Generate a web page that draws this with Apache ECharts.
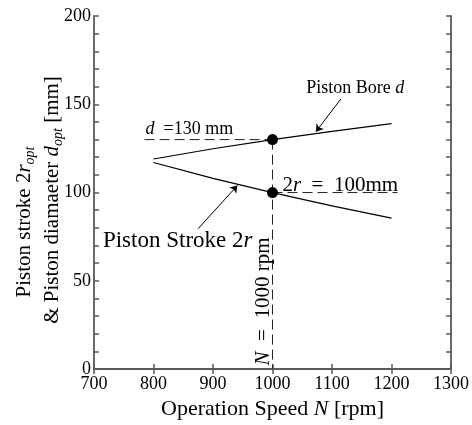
<!DOCTYPE html>
<html>
<head>
<meta charset="utf-8">
<script src="https://cdn.jsdelivr.net/npm/echarts@6/dist/echarts.min.js"></script>
<style>
html, body { margin: 0; padding: 0; background: #fff; }
#chart { width: 472px; height: 425px; }
</style>
</head>
<body>
<div id="chart"></div>
<script>
// values
var speed = [800, 900, 1000, 1100, 1200];
var bore = [119, 124.8, 130, 134.7, 139];
var stroke = [117, 108, 100, 92.5, 85.5];
var optPoints = [[1000, 130], [1000, 100]];
var boreGuide = [[785, 130], [1000, 130]];
var speedGuide = [[1000, 130], [1000, 0]];
var strokeGuide = [[1000, 100], [1210, 100]];
var boreArrow = [[1115, 153], [1073, 134.5]];
var strokeArrow = [[875, 79.5], [941, 104]];

var FONT = 'Liberation Serif';
var AXIS_COLOR = '#5a5a5a';

var myChart = echarts.init(document.getElementById('chart'));

function pairs(xs, ys) {
    return xs.map(function (x, i) { return [x, ys[i]]; });
}

function rich(size) {
    return {
        n: { fontFamily: FONT, fontSize: size, color: '#000', lineHeight: size + 6 },
        i: { fontFamily: FONT, fontSize: size, color: '#000', fontStyle: 'italic', lineHeight: size + 6 },
        s: { fontFamily: FONT, fontSize: Math.round(size * 0.68), color: '#000', fontStyle: 'italic',
             lineHeight: Math.round(size * 0.68), verticalAlign: 'bottom' }
    };
}

var tickStyle = { inside: true, length: 5, lineStyle: { color: AXIS_COLOR, width: 1.5 } };
var lineStyleAxis = { show: true, lineStyle: { color: AXIS_COLOR, width: 1.8 } };
var dashed = { color: '#222', width: 1, type: [10, 5] };

option = {
    animation: false,
    backgroundColor: '#fff',
    grid: { left: 94, top: 16, width: 360, height: 359 },
    xAxis: [{
        type: 'value',
        min: 700,
        max: 1300,
        interval: 100,
        axisLine: lineStyleAxis,
        axisTick: tickStyle,
        splitLine: { show: false },
        axisLabel: {
            fontFamily: FONT, fontSize: 18, color: '#000', margin: 6,
            formatter: function (v) { return String(v); }
        },
        name: '{n|Operation Speed }{i|N}{n| [rpm]}',
        nameLocation: 'middle',
        nameGap: 24,
        nameTextStyle: { rich: rich(22) }
    }, {
        type: 'value',
        position: 'top',
        min: 700,
        max: 1300,
        interval: 100,
        axisLine: lineStyleAxis,
        axisTick: tickStyle,
        axisLabel: { show: false },
        splitLine: { show: false }
    }],
    yAxis: [{
        type: 'value',
        min: 0,
        max: 200,
        interval: 10,
        axisLine: lineStyleAxis,
        axisTick: tickStyle,
        splitLine: { show: false },
        axisLabel: {
            fontFamily: FONT, fontSize: 18, color: '#000', margin: 3,
            formatter: function (v) { return v % 50 === 0 ? String(v) : ''; }
        }
    }, {
        type: 'value',
        position: 'right',
        min: 0,
        max: 200,
        interval: 10,
        axisLine: lineStyleAxis,
        axisTick: tickStyle,
        axisLabel: { show: false },
        splitLine: { show: false }
    }],
    series: [
        { type: 'line', data: boreGuide, showSymbol: false, z: 1, lineStyle: dashed },
        { type: 'line', data: speedGuide, showSymbol: false, z: 1, lineStyle: dashed },
        { type: 'line', data: strokeGuide, showSymbol: false, z: 1, lineStyle: dashed },
        {
            name: 'Piston Bore', type: 'line', data: pairs(speed, bore), showSymbol: false, z: 2,
            lineStyle: { color: '#000', width: 1.2 }
        },
        {
            name: 'Piston Stroke', type: 'line', data: pairs(speed, stroke), showSymbol: false, z: 2,
            lineStyle: { color: '#000', width: 1.2 }
        },
        {
            type: 'lines', coordinateSystem: 'cartesian2d', z: 3,
            symbol: ['none', 'arrow'], symbolSize: 7,
            lineStyle: { color: '#000', width: 1, opacity: 1 },
            data: [{ coords: boreArrow }, { coords: strokeArrow }]
        },
        {
            type: 'scatter', data: optPoints, symbolSize: 11, z: 4,
            itemStyle: { color: '#000', opacity: 1 }
        }
    ]
};
myChart.setOption(option);

function px(p) { return myChart.convertToPixel({ gridIndex: 0 }, p); }

function label(pos, text, size, align, rot) {
    var p = px(pos);
    return {
        type: 'text', x: p[0], y: p[1], rotation: rot || 0, z: 10,
        style: {
            text: text, fontFamily: FONT, fontSize: size, fill: '#000',
            align: align || 'left', verticalAlign: 'middle', rich: rich(size)
        }
    };
}

myChart.setOption({
    graphic: [
        label([786.7, 136.1], '{i|d}{n|  =130 mm}', 18),
        label([1056.7, 158.9], '{n|Piston Bore }{i|d}', 18),
        label([1016.7, 103.9], '{n|2}{i|r}{n|  =  100mm}', 21),
        label([715, 72.8], '{n|Piston Stroke 2}{i|r}', 23),
        label([985, 38.3], '{i|N}{n|  =  1000 rpm}', 21, 'center', Math.PI / 2),
        {
            type: 'text', x: 24, y: 222, rotation: Math.PI / 2,
            style: {
                text: '{n|Piston stroke 2}{i|r}{s|opt}', fontFamily: FONT, fontSize: 21,
                align: 'center', verticalAlign: 'middle', rich: rich(21)
            }
        },
        {
            type: 'text', x: 52, y: 200, rotation: Math.PI / 2,
            style: {
                text: '{n|& Piston diamaeter }{i|d}{s|opt}{n| [mm]}', fontFamily: FONT, fontSize: 21,
                align: 'center', verticalAlign: 'middle', rich: rich(21)
            }
        }
    ]
});
</script>
</body>
</html>
